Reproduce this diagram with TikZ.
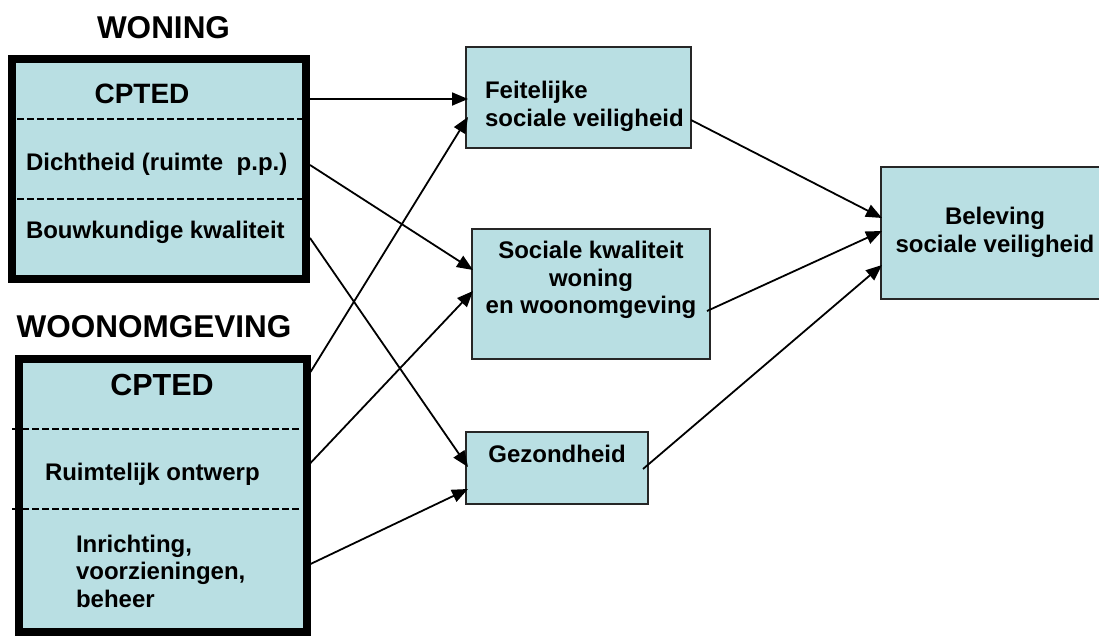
\documentclass[tikz,border=0pt]{standalone}
\usepackage{fontspec}
\setmainfont{Liberation Sans}
\usetikzlibrary{arrows.meta}
\definecolor{boxfill}{RGB}{185,223,227}
\begin{document}
\begin{tikzpicture}[x=1pt,y=-1pt,
  big/.style={draw=black, line width=8pt, fill=boxfill, rectangle, inner sep=0pt, outer sep=0pt},
  small/.style={draw=black!85, line width=2pt, fill=boxfill, rectangle, inner sep=0pt, outer sep=0pt},
  txt/.style={font=\bfseries\fontsize{24}{28}\selectfont, inner sep=0pt, outer sep=0pt},
  ttl/.style={font=\bfseries\fontsize{31.5}{36}\selectfont, inner sep=0pt, outer sep=0pt},
  divider/.style={line width=2pt, dash pattern=on 6.5pt off 3.5pt},
  conn/.style={line width=1.8pt, -{Triangle[length=16pt,width=13pt]}}]
\useasboundingbox (0,0) rectangle (1099,637);

% titles
\node[ttl, anchor=base] (tw) at (163.5,38) {WONING};
\node[ttl, anchor=base] (to) at (154,337) {WOONOMGEVING};

% left boxes
\node[big, minimum width=294pt, minimum height=220pt] (wbox) at (159,169) {};
\node[big, minimum width=288pt, minimum height=273.5pt] (obox) at (162.5,495.25) {};
\draw[divider] (17,119) -- (302,119);
\draw[divider] (17,199) -- (302,199);
\draw[divider] (12,429) -- (302,429);
\draw[divider] (12,509) -- (302,509);

\node[txt, font=\bfseries\fontsize{28}{32}\selectfont, anchor=base] (wc) at (142,103) {CPTED};
\node[txt, anchor=base west] (wd) at (26,170) {Dichtheid (ruimte~~p.p.)};
\node[txt, anchor=base west] (wb) at (26,238) {Bouwkundige kwaliteit};

\node[txt, font=\bfseries\fontsize{30.5}{34}\selectfont, anchor=base] (oc) at (162,395) {CPTED};
\node[txt, anchor=base west] (or) at (45,480) {Ruimtelijk ontwerp};
\node[txt, anchor=base west] (oi1) at (76,552) {Inrichting,};
\node[txt, anchor=base west] (oi2) at (76,579) {voorzieningen,};
\node[txt, anchor=base west] (oi3) at (76,607) {beheer};

% middle boxes
\node[small, minimum width=225pt, minimum height=101pt] (fs) at (578.5,97.5) {};
\node[txt, anchor=base west] (fs1) at (485,98) {Feitelijke};
\node[txt, anchor=base west] (fs2) at (485,126) {sociale veiligheid};

\node[small, minimum width=238pt, minimum height=130pt] (sk) at (591,294) {};
\node[txt, anchor=base] (sk1) at (591,258) {Sociale kwaliteit};
\node[txt, anchor=base] (sk2) at (591,286) {woning};
\node[txt, anchor=base] (sk3) at (591,313) {en woonomgeving};

\node[small, minimum width=182pt, minimum height=72pt] (gz) at (557,468) {};
\node[txt, anchor=base] (gz1) at (557,462) {Gezondheid};

% right box
\node[small, minimum width=228pt, minimum height=132pt] (bv) at (995,233) {};
\node[txt, anchor=base] (bv1) at (995,224) {Beleving};
\node[txt, anchor=base] (bv2) at (995,252) {sociale veiligheid};

% connectors
\draw[conn] ([xshift=4pt,yshift=70pt]wbox.east) -- ([xshift=2pt,yshift=-1.5pt]fs.west);
\draw[conn] ([xshift=4pt,yshift=4pt]wbox.east) -- ([xshift=1pt,yshift=24pt]sk.west);
\draw[conn] ([xshift=4pt,yshift=-69pt]wbox.east) -- ([xshift=2pt,yshift=1pt]gz.west);
\draw[conn] ([xshift=4pt,yshift=123.25pt]obox.east) -- ([xshift=2pt,yshift=-19.5pt]fs.west);
\draw[conn] ([xshift=4pt,yshift=32.25pt]obox.east) -- ([xshift=1pt,yshift=3pt]sk.west);
\draw[conn] ([xshift=4pt,yshift=-68.75pt]obox.east) -- ([xshift=2pt,yshift=-21pt]gz.west);
\draw[conn] ([yshift=-22.5pt]fs.east) -- ([xshift=1pt,yshift=15pt]bv.west);
\draw[conn] ([xshift=-3pt,yshift=-17pt]sk.east) -- ([xshift=1pt,yshift=2pt]bv.west);
\draw[conn] ([xshift=-5pt,yshift=-1pt]gz.east) -- ([xshift=1pt,yshift=-32pt]bv.west);
\end{tikzpicture}
\end{document}
